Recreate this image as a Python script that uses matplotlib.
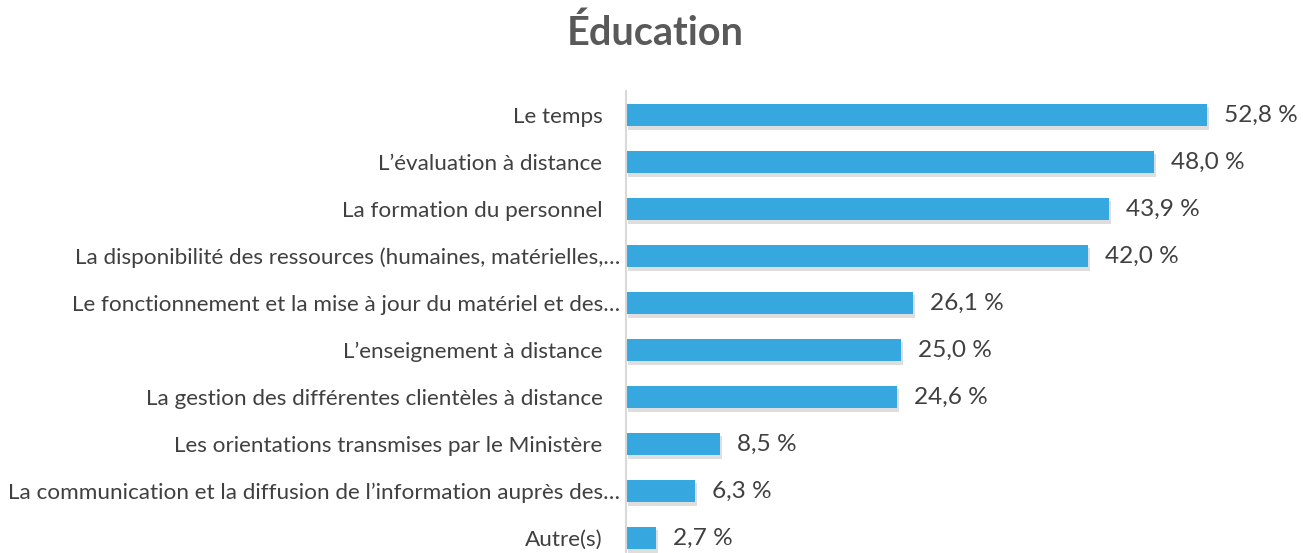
import matplotlib
matplotlib.use("Agg")
import matplotlib.pyplot as plt
import matplotlib.patheffects as pe
from matplotlib.transforms import ScaledTranslation

categories = [
    "Le temps",
    "L’évaluation à distance",
    "La formation du personnel",
    "La disponibilité des ressources (humaines, matérielles,…",
    "Le fonctionnement et la mise à jour du matériel et des…",
    "L’enseignement à distance",
    "La gestion des différentes clientèles à distance",
    "Les orientations transmises par le Ministère",
    "La communication et la diffusion de l’information auprès des…",
    "Autre(s)",
]
values = [52.8, 48.0, 43.9, 42.0, 26.1, 25.0, 24.6, 8.5, 6.3, 2.7]
value_labels = ["52,8 %", "48,0 %", "43,9 %", "42,0 %", "26,1 %", "25,0 %", "24,6 %", "8,5 %", "6,3 %", "2,7 %"]
title = "Éducation"

plt.rcParams['font.family'] = ['Lato', 'DejaVu Sans']

W, H = 1303, 553
fig = plt.figure(figsize=(W / 100, H / 100), dpi=100)
left = 626 / W
right = 1303 / W
top_px, bot_px = 91, 553
ax = fig.add_axes([left, 1 - bot_px / H, right - left, (bot_px - top_px) / H])

pos = list(range(len(categories)))
ax.barh(pos, values, height=0.47, color="#36A8DF",
        path_effects=[pe.withSimplePatchShadow(offset=(1.5, -2.5), shadow_rgbFace="#8a8a8a", alpha=0.28)])

px_per_unit = (1207 - 626) / 52.8
ax.set_xlim(0, (1303 - 626) / px_per_unit)
y0 = (top_px - 115) / 47
y1 = (bot_px - 115) / 47
ax.set_ylim(y1, y0)

for p, v, lab in zip(pos, values, value_labels):
    ax.annotate(lab, (v, p), xytext=(17, 0), textcoords="offset pixels",
                va="center", ha="left", fontsize=17.6, color="#404040")

ax.set_yticks(pos)
ax.set_yticklabels(categories, fontsize=16.2, color="#404040")
ax.tick_params(axis="y", length=0, pad=4)
for lab, txt in zip(ax.get_yticklabels(), categories):
    if not txt.endswith("…"):
        lab.set_transform(lab.get_transform() + ScaledTranslation(-18 / 100, 0, fig.dpi_scale_trans))
ax.set_xticks([])
for s in ["top", "right", "bottom"]:
    ax.spines[s].set_visible(False)
ax.spines["left"].set_color("#D9D9D9")
ax.spines["left"].set_linewidth(1.5)

fig.text(655 / W, 1 - 33 / H, title, ha="center", va="center",
         fontsize=28.5, fontweight="bold", color="#595959")

fig.savefig("out.png", dpi=100)
